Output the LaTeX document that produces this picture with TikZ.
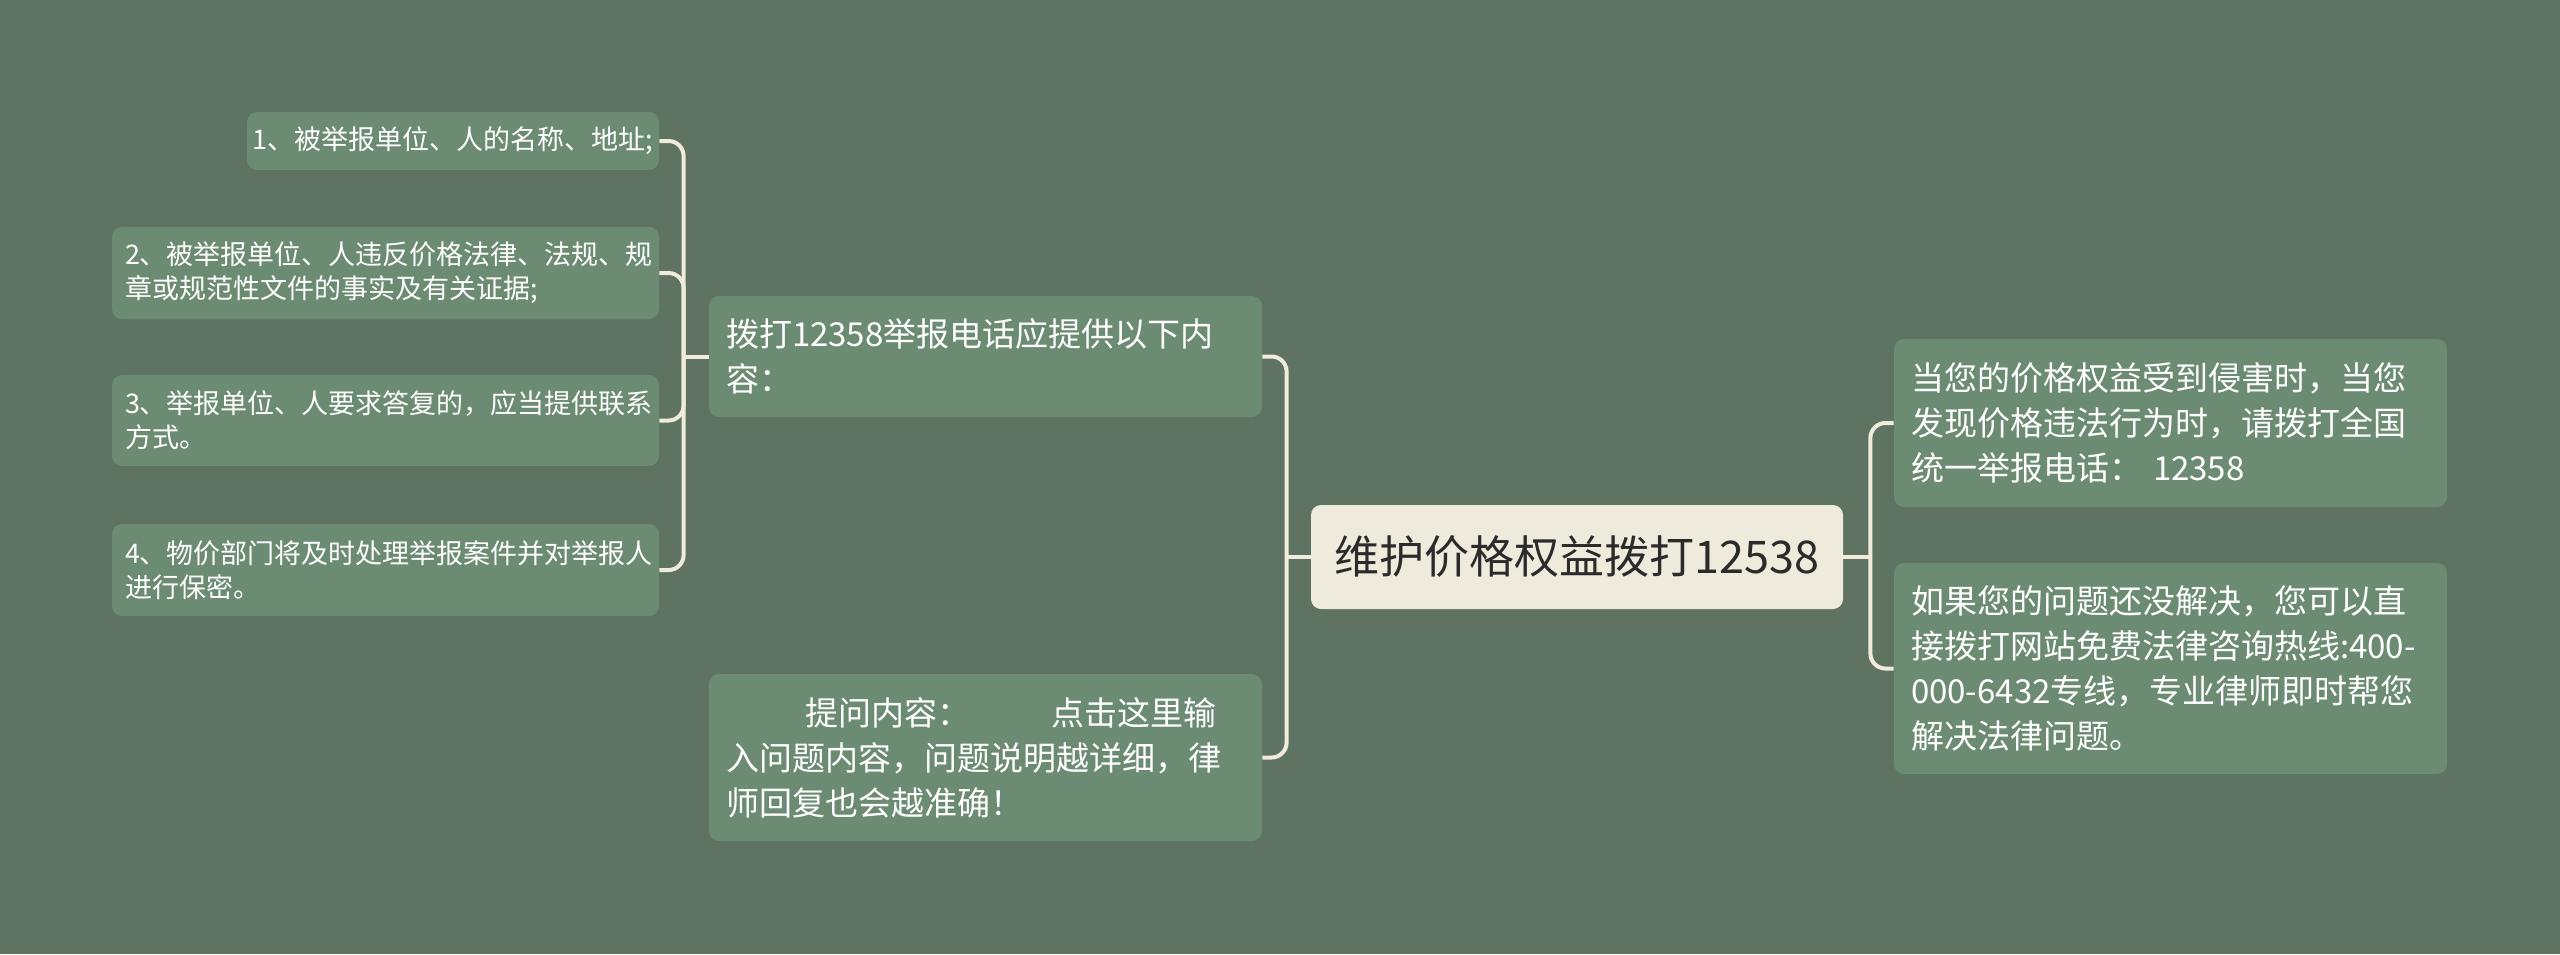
\documentclass[tikz,border=0pt]{standalone}
\usepackage{fontspec}
\setmainfont{Noto Sans CJK SC}
\definecolor{bg}{HTML}{5F7362}
\definecolor{nodegreen}{HTML}{6C8B73}
\definecolor{cream}{HTML}{F0EBDB}
\definecolor{rootfill}{HTML}{EFEBDC}
\definecolor{roottext}{HTML}{2B2B2B}
\tikzset{
  box/.style={fill=nodegreen, rounded corners=5pt, text=white, inner ysep=0pt, anchor=center},
  leaf/.style={box, font=\fontsize{13.5pt}{17pt}\selectfont, align=left, inner xsep=6.5pt},
  mid/.style={box, font=\fontsize{16.5pt}{22.5pt}\selectfont, align=left, inner xsep=8.5pt},
  rootbox/.style={fill=rootfill, rounded corners=5pt, text=roottext, font=\fontsize{22.5pt}{27pt}\selectfont, inner sep=0pt, anchor=center, minimum width=266pt, minimum height=52pt},
  conn/.style={draw=cream, line width=2pt, rounded corners=7.5pt}
}
\begin{document}
\begin{tikzpicture}[x=0.5pt,y=-0.5pt]
\useasboundingbox[fill=bg] (0,0) rectangle (2560,954);
% leaves
\node[leaf, align=center, inner xsep=0pt, minimum width=206pt, minimum height=29pt] (c1) at (453,141) {1、被举报单位、人的名称、地址;};
\node[leaf, text width=260.5pt, minimum height=46pt] (c2) at (385.5,273) {2、被举报单位、人违反价格法律、法规、规\\章或规范性文件的事实及有关证据;};
\node[leaf, text width=260.5pt, minimum height=45.5pt] (c3) at (385.5,420.5) {3、举报单位、人要求答复的，应当提供联系\\方式。};
\node[leaf, text width=260.5pt, minimum height=46pt] (c4) at (385.5,570) {4、物价部门将及时处理举报案件并对举报人\\进行保密。};
% middle
\node[mid, text width=259.5pt, minimum height=60.5pt] (A) at (985.5,356.5) {拨打12358举报电话应提供以下内\\容：};
\node[mid, text width=259.5pt, minimum height=83.5pt] (B) at (985.5,757.5) {\hspace*{39.5pt}提问内容：\hspace*{41pt}点击这里输\\入问题内容，问题说明越详细，律\\师回复也会越准确！};
% root
\node[rootbox] (root) at (1577,557) {维护价格权益拨打12538};
% right
\node[mid, text width=259.5pt, minimum height=84pt] (C) at (2170.5,423) {当您的价格权益受到侵害时，当您\\发现价格违法行为时，请拨打全国\\统一举报电话： 12358};
\node[mid, text width=259.5pt, minimum height=105.5pt] (D) at (2170.5,668.5) {如果您的问题还没解决，您可以直\\接拨打网站免费法律咨询热线:400-\\000-6432专线，专业律师即时帮您\\解决法律问题。};
% connectors
\coordinate (jL) at ([xshift=-12.5pt]A.west);
\coordinate (jM) at ([xshift=-12pt]root.west);
\coordinate (jR) at ([xshift=13.5pt]root.east);
\draw[conn] (A.west) -- (jL);
\draw[conn] (jL) |- (c1.east);
\draw[conn] (jL) |- (c2.east);
\draw[conn] (jL) |- (c3.east);
\draw[conn] (jL) |- (c4.east);
\draw[conn] (root.west) -- (jM);
\draw[conn] (jM) |- (A.east);
\draw[conn] (jM) |- (B.east);
\draw[conn] (root.east) -- (jR);
\draw[conn] (jR) |- (C.west);
\draw[conn] (jR) |- (D.west);
\end{tikzpicture}
\end{document}
